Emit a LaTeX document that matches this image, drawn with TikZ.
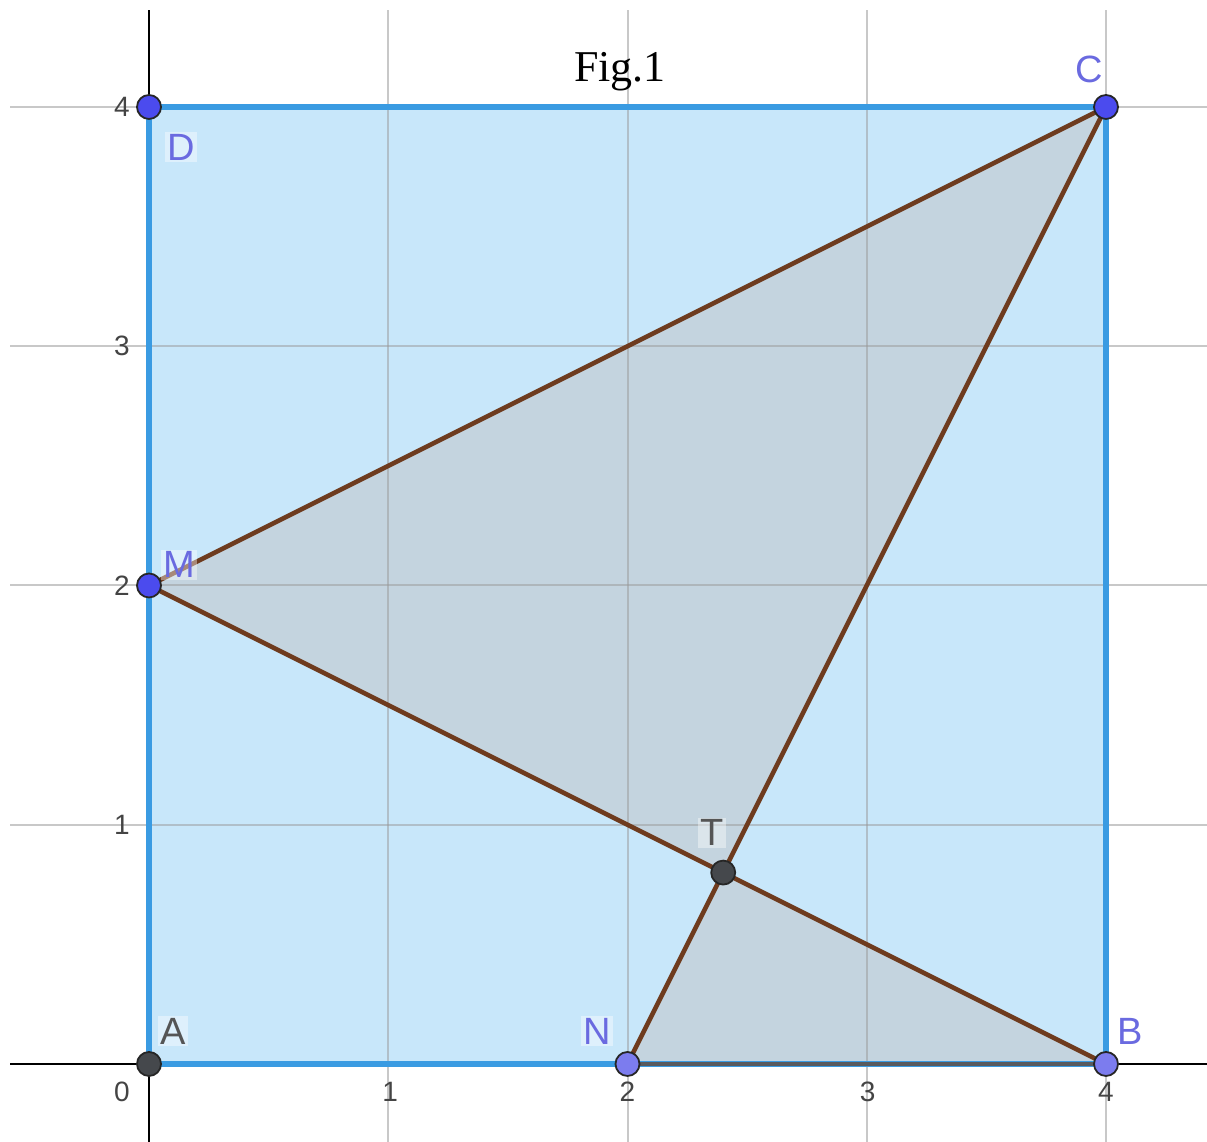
\documentclass[tikz,border=0pt]{standalone}
\usepackage{fontspec}
\setmainfont{Liberation Serif}
\newfontfamily\lsans{Liberation Sans}
\definecolor{gridc}{HTML}{C8C8C8}
\definecolor{sqfill}{HTML}{C8E7FA}
\definecolor{sqline}{HTML}{3A9BE2}
\definecolor{trifill}{HTML}{C4D4DF}
\definecolor{brownc}{HTML}{6E3B1E}
\definecolor{ptblue}{HTML}{4B4BEE}
\definecolor{ptlight}{HTML}{7C7CEE}
\definecolor{ptdark}{HTML}{45484C}
\definecolor{lblblue}{HTML}{6A6AE0}
\definecolor{lblgray}{HTML}{555555}
\definecolor{ticklbl}{HTML}{444444}
\tikzset{
  gridline/.style={gridc, line width=1pt},
  gridin/.style={black!40, opacity=0.5, line width=1pt},
  axisline/.style={black, line width=1pt},
  seg/.style={brownc, line width=2.3pt},
  ptstyle/.style={circle, draw=black!85, line width=0.9pt, minimum size=12pt, inner sep=0pt},
  ticklab/.style={font=\lsans\fontsize{14}{14}\selectfont, text=ticklbl, inner sep=0pt},
  ptlab/.style={font=\lsans\fontsize{19}{19}\selectfont, inner sep=1pt, fill=white, fill opacity=0.4, text opacity=1}
}
\begin{document}
\begin{tikzpicture}[x=119.625pt, y=119.625pt]
\useasboundingbox (-0.6228,-0.3260) rectangle (4.4222,4.4472);
% grid
\foreach \gx in {1,2,3,4} \draw[gridline] (\gx,-0.326) -- (\gx,4.405);
\foreach \gy in {1,2,3,4} \draw[gridline] (-0.581,\gy) -- (4.4222,\gy);
% points
\coordinate (A) at (0,0);
\coordinate (B) at (4,0);
\coordinate (C) at (4,4);
\coordinate (D) at (0,4);
\coordinate (M) at (0,2);
\coordinate (N) at (2,0);
\coordinate (T) at (2.4,0.8);
% square
\fill[sqfill] (A) -- (B) -- (C) -- (D) -- cycle;
% triangles
\fill[trifill] (M) -- (C) -- (T) -- cycle;
\fill[trifill] (T) -- (N) -- (B) -- cycle;
% grid visible through the fills
\foreach \gx in {1,2,3} \draw[gridin] (\gx,0) -- (\gx,4);
\foreach \gy in {1,2,3} \draw[gridin] (0,\gy) -- (4,\gy);
% axes
\draw[axisline] (-0.581,0) -- (4.4222,0);
\draw[axisline] (0,-0.326) -- (0,4.405);
\draw[sqline, line width=2.6pt] (A) -- (B) -- (C) -- (D) -- cycle;
% segments
\draw[seg] (M) -- (C);
\draw[seg] (M) -- (B);
\draw[seg] (N) -- (C);
\draw[ptdark!90, line width=2.3pt] (N) -- (B);
% tick labels
\node[ticklab] (t0) at (-0.113,-0.117) {0};
\node[ticklab] (tx1) at (1.008,-0.117) {1};
\node[ticklab] (tx2) at (2,-0.117) {2};
\node[ticklab] (tx3) at (3.004,-0.117) {3};
\node[ticklab] (tx4) at (4,-0.117) {4};
\node[ticklab] (ty1) at (-0.113,1) {1};
\node[ticklab] (ty2) at (-0.113,2) {2};
\node[ticklab] (ty3) at (-0.113,3) {3};
\node[ticklab] (ty4) at (-0.113,4) {4};
% point markers
\node[ptstyle, fill=ptblue] (pD) at (D) {};
\node[ptstyle, fill=ptblue] (pC) at (C) {};
\node[ptstyle, fill=ptblue] (pM) at (M) {};
\node[ptstyle, fill=ptlight] (pN) at (N) {};
\node[ptstyle, fill=ptlight] (pB) at (B) {};
\node[ptstyle, fill=ptdark] (pA) at (A) {};
\node[ptstyle, fill=ptdark] (pT) at (T) {};
% point labels
\node[ptlab, text=lblblue] (lD) at (0.134,3.833) {D};
\node[ptlab, text=lblblue] (lC) at (3.929,4.155) {C};
\node[ptlab, text=lblblue] (lM) at (0.125,2.086) {M};
\node[ptlab, text=lblgray] (lT) at (2.353,0.966) {T};
\node[ptlab, text=lblgray] (lA) at (0.100,0.138) {A};
\node[ptlab, text=lblblue] (lN) at (1.873,0.138) {N};
\node[ptlab, text=lblblue] (lB) at (4.100,0.138) {B};
% title
\node[font=\fontsize{22}{22}\selectfont, inner sep=0pt] (title) at (1.969,4.146) {Fig.1};
\end{tikzpicture}
\end{document}
